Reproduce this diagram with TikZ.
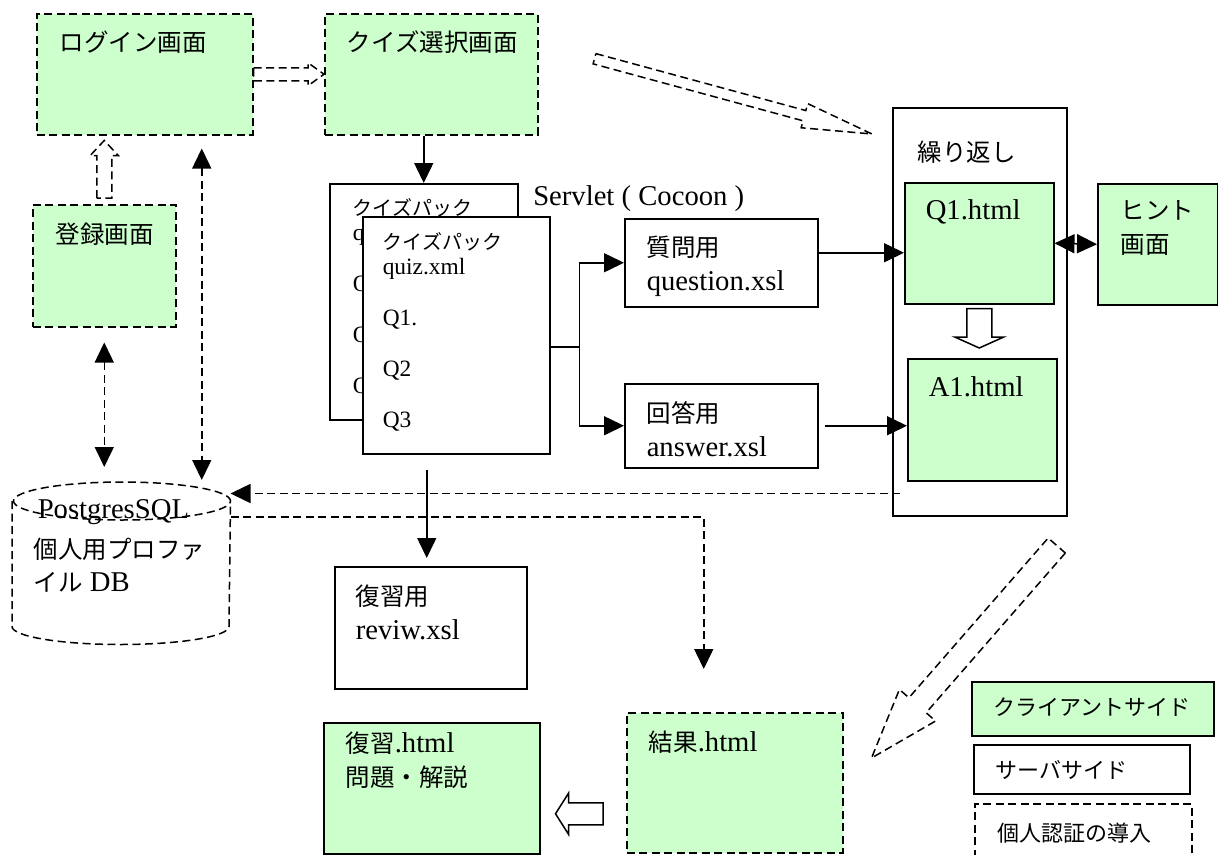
\documentclass[tikz,border=0pt]{standalone}
\usepackage{fontspec}
\setmainfont{Liberation Serif}[Scale=1.17]
\newfontfamily\jp{Noto Sans CJK JP}
\usetikzlibrary{arrows.meta,calc}
\definecolor{jgreen}{HTML}{CCFFCC}
\newcommand\J[1]{{\jp #1}}
\newcommand\mainfs{\fontsize{24.5}{34}\selectfont}
% width, height, left pad, top pad, text
\newcommand\cell[5]{\parbox[c][#2pt][t]{#1pt}{\leftskip=#3pt\relax\vspace*{#4pt}#5}}
\newcommand\quizpack{\J{クイズパック}\\quiz.xml\\[26pt]Q1.\\[26pt]Q2\\[26pt]Q3}
% hollow block arrow: [style] tail, tip, shaft half, head half, head length
\newcommand\hollow[6][]{%
  \coordinate (hb) at ($(#3)!#6!(#2)$);
  \draw[#1] ($(#2)!#4!90:(#3)$) -- ($(hb)!#4!90:(#3)$) -- ($(hb)!#5!90:(#3)$)
    -- (#3) -- ($(hb)!#5!-90:(#3)$) -- ($(hb)!#4!-90:(#3)$)
    -- ($(#2)!#4!-90:(#3)$) -- cycle;}
\tikzset{
  box/.style={draw, fill=white, inner sep=0pt, anchor=north west, font=\mainfs},
  client/.style={box, fill=jgreen},
  auth/.style={dash pattern=on 8pt off 4.5pt},
  arr/.style={-{Triangle[length=20pt, width=19pt]}},
  biarr/.style={{Triangle[length=20pt, width=19pt]}-{Triangle[length=20pt, width=19pt]}},
  quizfont/.style={font=\fontsize{20}{25}\selectfont},
  legendfont/.style={font=\fontsize{22}{28}\selectfont},
}

\begin{document}
\begin{tikzpicture}[x=1pt, y=-1pt, line width=1.5pt]
  \useasboundingbox (0,0) rectangle (1218,854);

  % screens on the client side
  \node[client, auth] (login) at (36,13) {\cell{216}{121}{23}{17}{\J{ログイン画面}}};
  \node[client, auth] (quizsel) at (324,13) {\cell{213}{121}{22}{17}{\J{クイズ選択画面}}};
  \node[client, auth] (reg) at (32,204) {\cell{143}{122}{23}{18}{\J{登録画面}}};

  % servlet side
  \node[box, quizfont] (qback) at (329,183) {\cell{188}{236}{23}{15}{\quizpack}};
  \node[box, quizfont] (qfront) at (362,216) {\cell{187}{237}{20}{16}{\quizpack}};
  \node[anchor=base west, inner sep=0pt, font=\mainfs] (servlet)
    at ([shift={(14pt,-22pt)}]qback.north east) {Servlet ( Cocoon )};
  \node[box] (qbox) at (624,218) {\cell{193}{88}{22}{17}{\J{質問用}\\question.xsl}};
  \node[box] (abox) at (624,383) {\cell{193}{84}{22}{18}{\J{回答用}\\answer.xsl}};
  \node[box] (rev) at (334,566) {\cell{192}{122}{21}{18}{\J{復習用}\\reviw.xsl}};

  % repeated pages
  \node[box] (rep) at (892,107) {\cell{174}{408}{25}{33}{\J{繰り返し}}};
  \node[client] (q1) at (904,182) {\cell{149}{121}{21}{17}{Q1.html}};
  \node[client] (a1) at (907,358) {\cell{149}{122}{21}{18}{A1.html}};
  \node[client] (hint) at (1097,183) {\cell{120}{121}{23}{17}{\J{ヒント}\\\J{画面}}};

  \node[client, auth] (res) at (626,712) {\cell{216}{140}{22}{18}{\J{結果}.html}};
  \node[client] (revh) at (323,722) {\cell{216}{131}{22}{9}{\J{復習}.html\\\J{問題・解説}}};

  % database
  \node[box, draw=none, fill=none, font=\fontsize{24.5}{33}\selectfont] (db) at (12,482)
    {\cell{217}{161}{21}{17}{\hspace*{4pt}PostgresSQL\\[7pt]\J{個人用プロファ}\\\J{イル} DB}};
  \draw[auth] ([yshift=-19pt]db.north west) -- ([yshift=18pt]db.south west)
    arc[start angle=180, end angle=360, x radius=108.5pt, y radius=18pt]
    -- ([yshift=-19pt]db.north east)
    arc[start angle=0, end angle=360, x radius=108.5pt, y radius=19pt];

  % legend
  \node[client, legendfont] (lg-client) at (971,681) {\cell{242}{54}{22}{16}{\J{クライアントサイド}}};
  \node[box, legendfont] (lg-server) at (973,744) {\cell{216}{49}{22}{16}{\J{サーバサイド}}};
  \node[box, legendfont, auth] (lg-auth) at (974,803) {\cell{217}{70}{23}{19}{\J{個人認証の導入}}};

  % solid connectors
  \draw[arr] (quizsel.south -| qback.north) -- (qback.north);
  \coordinate (br) at ([shift={(29pt,-11.5pt)}]qfront.east);
  \draw (qfront.east |- br) -- (br);
  \draw[arr] (br) |- (qbox.west);
  \draw[arr] (br) |- (abox.west);
  \coordinate (qq) at ([yshift=10pt]qbox.east);
  \draw[arr] (qq) -- (qq -| q1.west);
  \coordinate (aa) at ([xshift=6pt]abox.east);
  \draw[arr] (aa) -- (aa -| a1.west);
  \draw[biarr] (q1.east) -- (hint.west);
  \coordinate (rv) at (rev.north |- qfront.south);
  \draw[arr] ([shift={(-4pt,-15pt)}]rv) -- ([shift={(-4pt,8pt)}]rev.north);

  % dashed connectors
  \coordinate (lg-a) at ([shift={(57pt,-13pt)}]login.south);
  \coordinate (lg-b) at (lg-a |- db.north);
  \draw[biarr, auth] (lg-a) -- ([yshift=2pt]lg-b);
  \coordinate (rg-a) at ([yshift=-15pt]reg.south);
  \coordinate (rg-b) at (rg-a |- db.north);
  \draw[biarr, auth] (rg-a) -- ([yshift=15pt]rg-b);
  \coordinate (rp-a) at ([shift={(8pt,23pt)}]rep.south west);
  \draw[arr, auth] (rp-a) -- (rp-a -| db.east);
  \coordinate (dr-a) at ([yshift=-35pt]db.north east);
  \coordinate (dr-b) at ([shift={(-31pt,43pt)}]res.north);
  \draw[arr, auth] (dr-a) -| (dr-b);

  % hollow arrows
  \hollow[auth]{login.east}{quizsel.west}{6.5pt}{11.5pt}{16pt}
  \coordinate (rl-a) at ([yshift=6pt]reg.north);
  \coordinate (rl-0) at (reg.north |- login.south);
  \coordinate (rl-b) at ([yshift=-5pt]rl-0);
  \hollow[auth]{rl-a}{rl-b}{7.5pt}{14pt}{15pt}
  \coordinate (d1-a) at ([shift={(56pt,15.5pt)}]quizsel.east);
  \coordinate (d1-b) at ([shift={(-20pt,-27pt)}]rep.north west);
  \hollow[auth]{d1-a}{d1-b}{5.3pt}{12.5pt}{70pt}
  \coordinate (d2-a) at ([shift={(77pt,-29pt)}]rep.south);
  \coordinate (d2-b) at ([shift={(28pt,-46pt)}]res.north east);
  \hollow[auth]{d2-a}{d2-b}{11.4pt}{24pt}{70pt}
  \coordinate (qa-a) at ([yshift=-4pt]q1.south);
  \coordinate (qa-0) at (q1.south |- a1.north);
  \coordinate (qa-b) at ([yshift=10pt]qa-0);
  \hollow[fill=white]{qa-a}{qa-b}{12.5pt}{24.5pt}{11pt}
  \coordinate (rr-a) at ([shift={(-23pt,-31pt)}]res.west);
  \coordinate (rr-0) at (rr-a -| revh.east);
  \coordinate (rr-b) at ([xshift=15pt]rr-0);
  \hollow{rr-a}{rr-b}{11pt}{20.5pt}{13pt}
\end{tikzpicture}
\end{document}
